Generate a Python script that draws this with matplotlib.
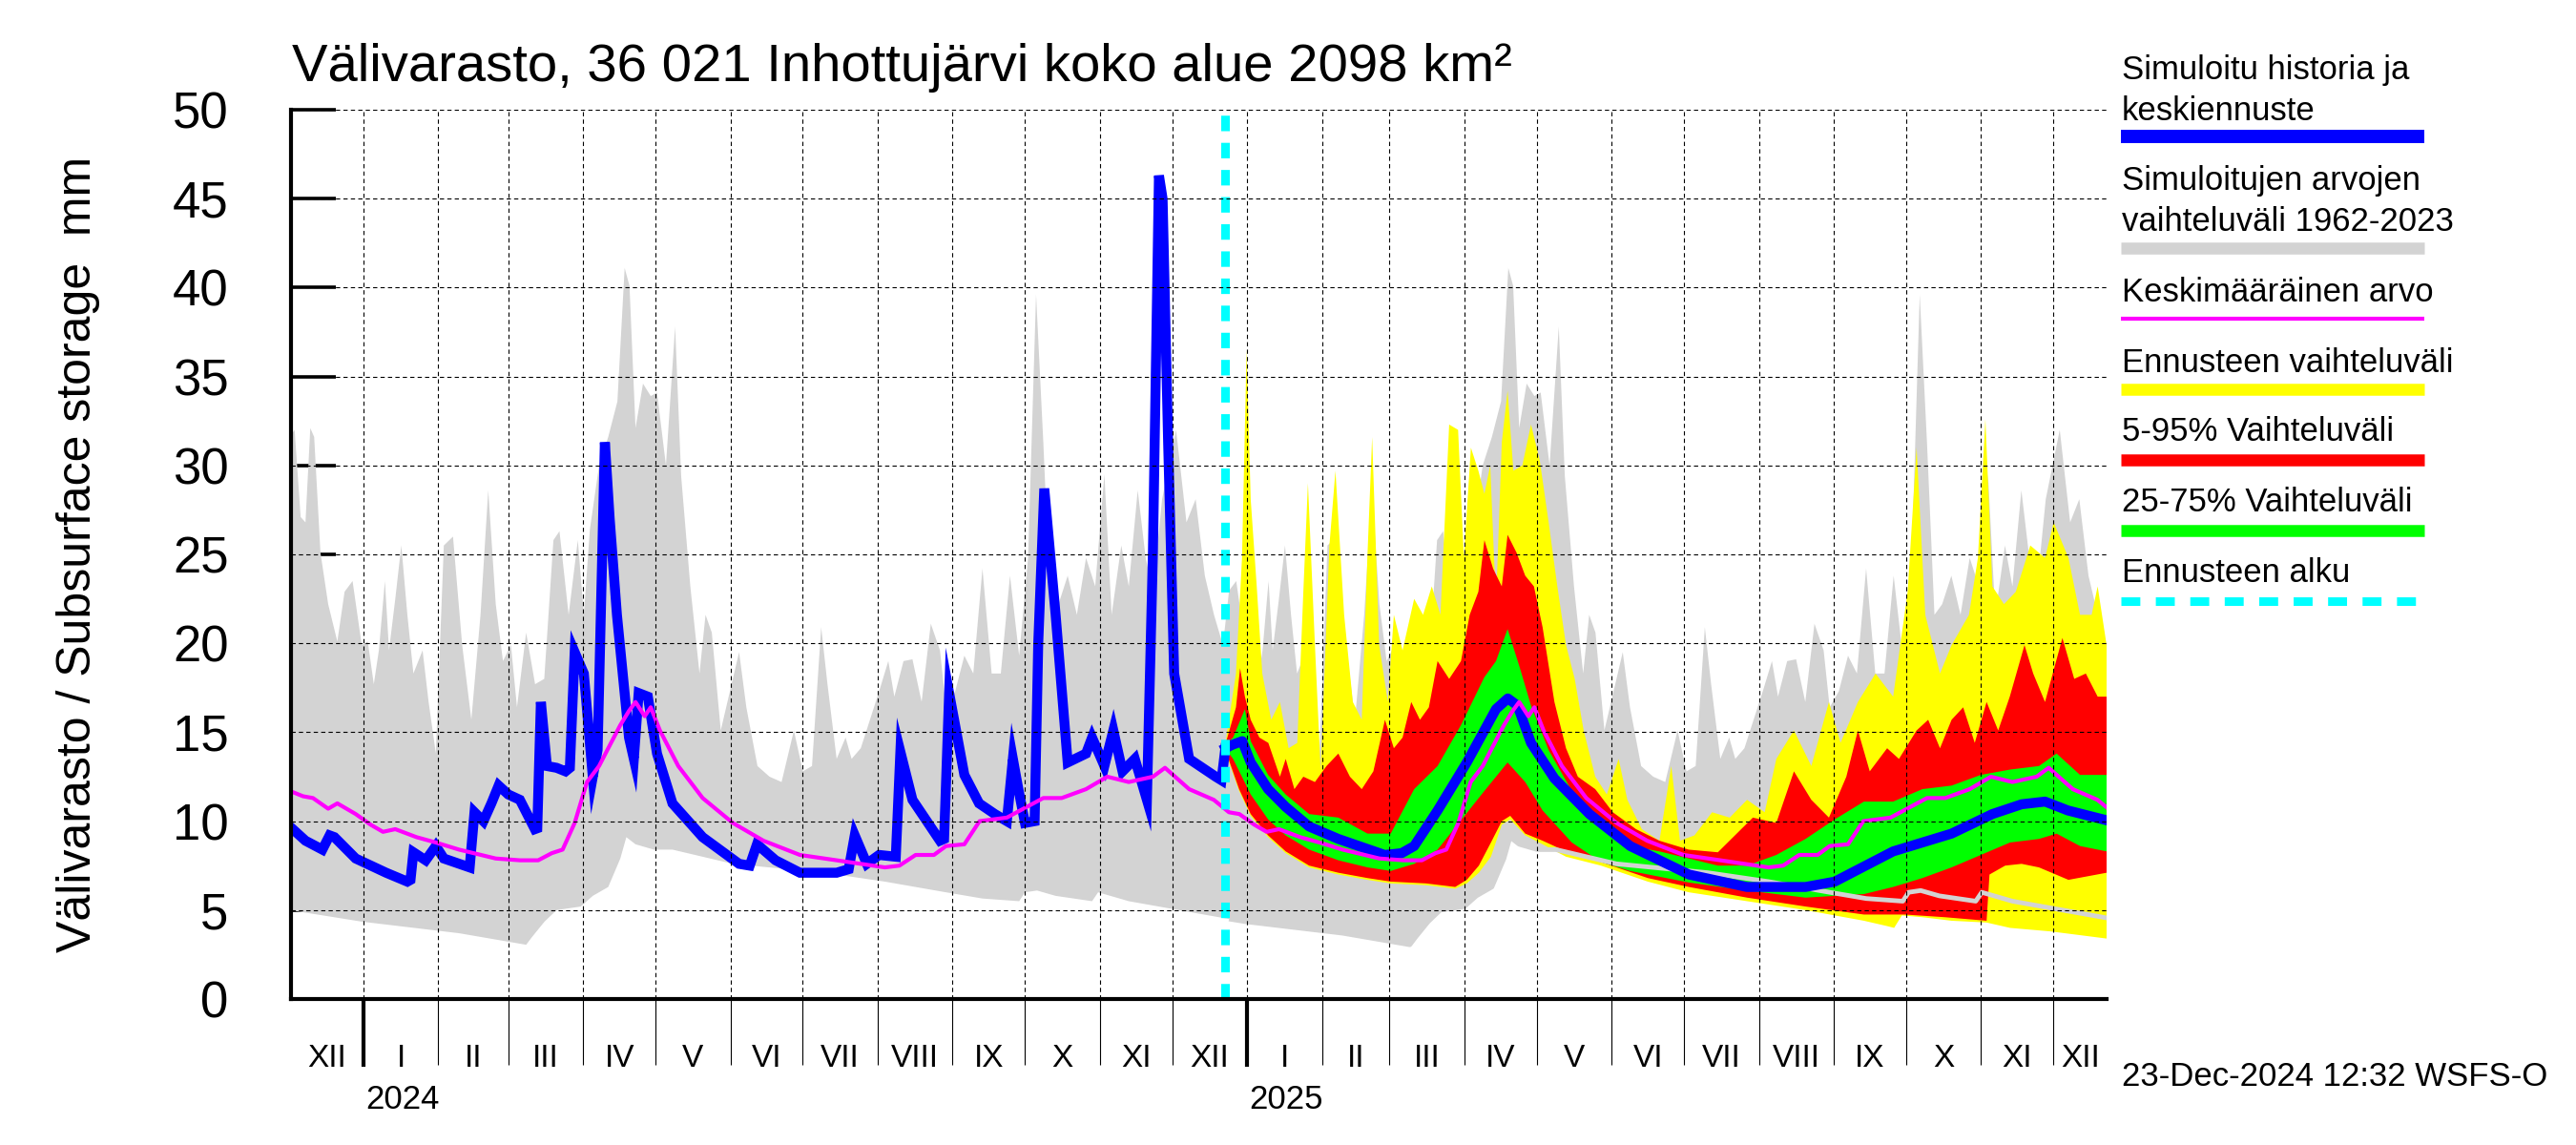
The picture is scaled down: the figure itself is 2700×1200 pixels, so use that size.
import numpy as np
import matplotlib
matplotlib.use('Agg')
import matplotlib.pyplot as plt
from matplotlib.lines import Line2D
from matplotlib.transforms import blended_transform_factory

plt.rcParams['font.family'] = ['Liberation Sans', 'DejaVu Sans']

# ---------------- data (x = days from 2024-01-01) ----------------
# Simulated history (blue)
hist_days = [-30.5, -24, -17, -14, -12, -3.2, 9.4, 18.2, 19.5, 20.7, 25.8, 30, 33.3, 44, 46,
             49.7, 53, 56, 60, 64.8, 71, 72, 73.5, 76, 80, 83.7, 85.5, 87.5, 91.3, 95,
             97, 100, 102, 105, 110, 112, 114, 117.8, 121.6, 128, 140.5, 155.6, 160, 163, 170.7,
             180.8, 196, 201, 203.5, 208.5, 213.6, 220.5, 222.4, 227.4, 238.8, 240.5, 242.6, 248.9, 255, 261.5,
             266.5, 269, 271, 274, 278, 279.5, 282, 286.7, 291.7, 299.3, 301.8, 306.9, 310.6, 314.4, 319.5,
             324.5, 327, 329.5, 331, 333.3, 335.8, 342, 349.7, 353, 355.4, 357]
hist_vals = [9.7, 8.9, 8.4, 9.2, 9.1, 7.9, 7.1, 6.6, 6.7, 8.25, 7.8, 8.6, 7.9, 7.4, 10.5,
             10.0, 11.0, 12.0, 11.5, 11.2, 9.55, 9.6, 16.7, 13.1, 13.0, 12.8, 13.0, 19.5, 18.3, 12.5,
             14.0, 31.3, 27.0, 21.6, 14.7, 13.5, 17.2, 17.0, 13.8, 11.0, 9.1, 7.6, 7.5, 8.7, 7.8,
             7.1, 7.1, 7.3, 9.2, 7.6, 8.1, 8.0, 13.9, 11.2, 8.9, 9.0, 17.2, 12.6, 11.0, 10.4,
             10.0, 13.5, 12.0, 9.9, 10.0, 20.0, 28.7, 21.6, 13.3, 13.8, 14.7, 13.1, 15.1, 12.8, 13.5,
             11.2, 25.1, 46.3, 45.0, 31.3, 18.3, 13.5, 12.8, 12.5, 12.3, 14.1]

# Forecast median (blue)
med_days = [357, 360, 364, 367.5, 374.7, 382, 391.7, 403.8, 423, 430, 435.2, 444.9, 457, 469.1, 474,
            478, 483.6, 493.3, 507.8, 524.7, 549, 573, 597.3, 609.4, 621.5, 633.6, 645.7, 657.8, 674.7,
            686.8, 696.5, 706, 722]
med_vals = [14.1, 14.3, 14.5, 13.3, 11.8, 10.8, 9.7, 9.0, 8.1, 8.2, 8.6, 10.6, 13.3, 16.3, 16.9,
            16.5, 14.4, 12.4, 10.4, 8.6, 7.0, 6.3, 6.3, 6.6, 7.45, 8.3, 8.8, 9.3, 10.4,
            10.95, 11.1, 10.6, 10.05]

# Long-term mean (magenta), day-of-year climatology read over 2024
mean_days = [-30.5, -25, -20.9, -14.6, -10.8, -3.2, 3, 8.1, 13.2, 22, 30, 39.6, 54.8, 64.8, 72.4,
             78, 82.5, 87.5, 92.6, 97.6, 101.4, 106.4, 110, 112.7, 116.5, 119, 122.8, 130.4, 140.5, 153,
             165.7, 180.8, 196, 216, 222, 228.7, 236.3, 241.3, 248.9, 255.2, 266.5, 281.6, 289.2, 299.3,
             308.1, 317, 327, 332, 342, 352.2, 358.5]
mean_vals = [11.7, 11.4, 11.3, 10.7, 11.0, 10.4, 9.8, 9.4, 9.55, 9.1, 8.8, 8.4, 7.9, 7.8, 7.8,
             8.2, 8.4, 9.9, 12.2, 13.1, 14.1, 15.4, 16.2, 16.7, 15.9, 16.4, 15.1, 13.1, 11.3, 9.9,
             8.9, 8.1, 7.8, 7.4, 7.5, 8.1, 8.1, 8.6, 8.7, 10.0, 10.2, 11.3, 11.3, 11.8,
             12.5, 12.2, 12.5, 13.0, 11.8, 11.2, 10.5]

# Range of simulated values 1962-2023 (grey), day-of-year climatology read over 2024
gu_days = [-30.5, -28.5, -26, -24, -22, -20.4, -17.8, -14.6, -10.8, -7.8, -4.5, -0.7, 1.8, 4.3, 6.4,
           8.9, 10.6, 13.2, 15.7, 18.2, 20.7, 24.5, 27, 30, 33.3, 37.1, 40.9, 44.7, 48.5, 51.7,
           54.8, 57.8, 61.1, 63.6, 67.4, 71.1, 74.9, 78.7, 81.2, 85, 88.8, 91.3, 93.8, 97.6, 101.4,
           105.2, 108.2, 110.2, 112.7, 115.8, 119, 121.6, 125.3, 129.1, 131.6, 135.4, 139.2, 141.7, 144.3, 148,
           151.8, 155.6, 158.6, 163.2, 168.2, 173.2, 178.3, 182, 185.8, 189.6, 192.2, 196, 199.7, 202.2, 206,
           209.8, 213.6, 217.4, 219.9, 223.7, 227.4, 231.2, 235, 238.8, 241.3, 245.1, 248.9, 252.6, 256.4, 260.2,
           264, 267.8, 271.6, 275.3, 278.6, 281.6, 284.7, 287.9, 291.7, 295.5, 299.3, 303.1, 306.9, 309.9, 313.9,
           317, 320.7, 324, 327, 330.8, 336.6, 340.9, 344.7, 348.5, 352.3, 356, 358.5]
gu_vals = [31.6, 32, 27.1, 26.8, 32.1, 31.6, 25.1, 22.2, 20.1, 22.9, 23.5, 19.9, 20.1, 17.7, 19.6,
           23.5, 19.6, 22.5, 25.5, 21.6, 18.3, 19.6, 16.7, 13.8, 25.5, 26.0, 19.9, 15.7, 21.6, 28.6,
           22.2, 19.0, 19.9, 16.4, 20.6, 17.7, 18.0, 25.8, 26.3, 21.6, 25.8, 21.6, 26.4, 30.0, 31.6,
           33.6, 41.1, 40.1, 32.1, 34.6, 33.9, 34.1, 30.0, 37.8, 29.4, 23.2, 18.3, 21.6, 20.6, 15.1,
           17.3, 19.5, 16.4, 13.1, 12.5, 12.2, 15.1, 12.8, 13.1, 20.9, 17.7, 13.5, 14.7, 13.5, 14.1,
           15.7, 17.3, 19.0, 17.0, 19.0, 19.1, 16.7, 21.1, 19.6, 16.4, 17.3, 19.3, 18.3, 24.2, 18.3,
           18.3, 23.8, 19.3, 24.8, 39.6, 31.3, 21.6, 22.2, 23.8, 21.6, 24.8, 23.2, 29.5, 21.6, 25.5,
           23.2, 28.6, 24.8, 22.9, 28.1, 32.0, 26.8, 28.1, 23.8, 21.6, 19.9, 22.9]
gl_days = [-30.5, -0.7, 39.6, 67.4, 69.9, 75, 80, 90, 95, 101.4, 106.4, 108.9, 112.7, 120.3,
           128, 153, 190.9, 216, 241.3, 256.4, 271.6, 274, 279, 286.7, 301.8, 304.3, 317, 358.5]
gl_vals = [5.0, 4.35, 3.7, 3.05, 3.5, 4.35, 5.0, 5.2, 5.8, 6.3, 7.9, 9.1, 8.7, 8.4,
           8.4, 7.6, 7.1, 6.6, 6.0, 5.65, 5.5, 6.0, 6.1, 5.8, 5.5, 6.0, 5.5, 4.5]

# Forecast range (yellow)
yu_days = [357, 357.8, 361.4, 363.9, 365.8, 367.5, 370, 372.3, 376, 379.6, 383.2, 386.8, 389.3, 391.2, 394.1,
           396.5, 400.1, 402.6, 406.2, 409.8, 413.5, 415.9, 417.8, 420.7, 424.3, 426.8, 430.4, 435.2, 438.9, 442.5,
           446.1, 449.7, 453.4, 455.8, 458.7, 461.8, 464.3, 466.7, 469.1, 471.5, 473.9, 476.3, 480, 483.6, 487.2,
           490.9, 494.5, 498.1, 501.7, 505.4, 510.2, 515, 519.9, 523.5, 529.5, 536.8, 541.7, 545.3, 551.3, 558.6,
           565.9, 573.1, 580.4, 585.2, 592.5, 599.7, 607, 611.8, 619, 626.3, 633.6, 639.6, 643.3, 646.9, 653,
           657.8, 665, 668.7, 671.8, 674.7, 679.5, 684.4, 690.4, 696.5, 700.1, 706.2, 711, 715.8, 718.3, 722]
yu_vals = [14.2, 15.1, 18.3, 24.8, 36.5, 28.1, 23.2, 18.3, 15.7, 16.7, 14.1, 14.4, 22.9, 29.0, 19.9,
           12.8, 25.5, 29.7, 21.6, 16.7, 15.7, 25.1, 31.6, 19.9, 16.7, 21.6, 19.6, 22.5, 21.6, 23.2,
           21.6, 32.3, 32.0, 24.8, 31.0, 29.7, 28.4, 30.0, 22.2, 31.3, 34.2, 29.7, 30.0, 32.3, 30.3,
           26.8, 23.2, 19.9, 18.0, 15.1, 12.5, 11.5, 13.5, 11.2, 9.55, 8.9, 13.1, 8.9, 9.2, 10.5,
           10.2, 11.2, 10.5, 13.5, 15.1, 13.1, 16.7, 14.4, 16.7, 18.3, 17.0, 22.9, 31.0, 21.6, 18.3,
           19.9, 21.6, 24.8, 32.6, 23.2, 22.2, 22.9, 25.5, 24.8, 26.8, 24.8, 21.6, 21.6, 23.2, 19.9]
yl_days = [357, 362.7, 367.5, 374.7, 382, 391.7, 403.8, 415.9, 425.5, 440.1, 452.2, 457, 462, 467, 471.5,
           475, 481.2, 488.4, 498.1, 512.6, 532, 549, 573.1, 597.3, 621.5, 631.1, 634, 637.2, 645.7, 657.8,
           672.3, 682, 698.9, 722]
yl_vals = [13.9, 11.7, 10.3, 9.1, 8.2, 7.4, 7.0, 6.7, 6.5, 6.4, 6.2, 6.5, 7.1, 8.0, 9.8,
           10.1, 9.2, 8.7, 8.0, 7.5, 6.6, 6.0, 5.5, 5.0, 4.4, 4.1, 4.0, 4.7, 4.6, 4.4,
           4.3, 4.0, 3.8, 3.4]

# 5-95 % range (red)
ru_days = [357, 361.4, 363.1, 365.1, 367.5, 371.1, 374.8, 379.6, 382, 385.6, 389.3, 394.1, 398.9, 403.8, 408.6,
           413.5, 418.3, 423.1, 426.8, 430.4, 434, 437.6, 441.3, 444.9, 449.7, 454.6, 458.2, 461.8, 464.3, 467.9,
           471.5, 473.9, 477.6, 481.2, 484.8, 488.4, 493.3, 498.1, 503, 510.2, 517.5, 527.1, 536.8, 548.9, 561,
           575.5, 585.2, 592.5, 599.7, 607, 614.2, 619, 623.9, 631.1, 636, 643.3, 648.1, 653, 657.8, 662.6,
           667.4, 672.3, 677.1, 681.9, 688, 691.6, 696.5, 703.7, 708.6, 713.4, 718.3, 722]
ru_vals = [14.3, 16.4, 18.6, 17.0, 15.7, 14.7, 14.4, 12.5, 13.5, 11.8, 12.5, 12.2, 13.1, 13.8, 12.5,
           11.8, 12.8, 15.7, 14.1, 14.7, 16.7, 15.7, 16.4, 19.0, 18.0, 19.0, 21.6, 22.9, 25.8, 24.2,
           23.2, 26.1, 25.1, 23.8, 23.2, 20.9, 16.7, 14.1, 12.5, 11.8, 10.5, 9.55, 8.9, 8.4, 8.25,
           10.2, 9.9, 12.8, 11.2, 10.2, 12.5, 15.1, 12.8, 14.1, 13.5, 15.1, 15.7, 14.1, 15.7, 16.4,
           14.4, 16.7, 15.1, 17.0, 19.9, 18.3, 16.7, 20.3, 18.0, 18.3, 17.0, 17.0]
rl_days = [357, 362.7, 367.5, 374.7, 382, 391.7, 403.8, 415.9, 425.5, 440.1, 452.2, 457, 462, 467, 471.5,
           475, 481.2, 488.4, 498.1, 512.6, 532, 549, 573.1, 597.3, 621.5, 638.4, 655, 672.3, 673.5, 680,
           686.8, 694, 706.2, 722]
rl_vals = [14.0, 11.8, 10.4, 9.2, 8.3, 7.5, 7.1, 6.8, 6.6, 6.5, 6.3, 6.7, 7.5, 8.8, 10.0,
           10.3, 9.3, 8.9, 8.3, 7.7, 6.8, 6.3, 5.7, 5.2, 4.75, 4.75, 4.6, 4.4, 7.0, 7.5,
           7.6, 7.4, 6.7, 7.1]

# 25-75 % range (green)
gnu_days = [357, 360.2, 365.1, 367.5, 374.7, 382, 391.7, 403.8, 415.9, 425.5, 435.2, 444.9, 454.6, 464.3, 469.1,
            473.9, 478.8, 483.6, 490.9, 500.5, 512.6, 524.7, 536.8, 549, 561, 573.1, 585.2, 597.3, 609.4, 621.5,
            633.6, 645.7, 657.8, 669.9, 682, 694, 701.3, 711, 722]
gnu_vals = [14.3, 14.7, 16.3, 14.5, 12.6, 11.5, 10.4, 10.2, 9.3, 9.3, 11.8, 13.1, 15.4, 18.1, 19.0,
            20.8, 18.7, 16.5, 14.0, 11.7, 9.9, 8.6, 8.3, 7.9, 7.5, 7.5, 8.1, 9.0, 10.1, 11.1,
            11.1, 11.8, 12.0, 12.6, 12.9, 13.1, 13.8, 12.6, 12.6]
gnl_days = [357, 360.2, 367.5, 374.7, 382, 391.7, 403.8, 415.9, 425.5, 435.2, 444.9, 454.6, 464.3, 473.9, 481.2,
            488.4, 500.5, 512.6, 524.7, 549, 573.1, 597.3, 621.5, 633.6, 645.7, 657.8, 669.9, 682, 694, 701.3,
            711, 722]
gnl_vals = [14.1, 13.5, 11.5, 10.1, 9.2, 8.4, 7.8, 7.4, 7.2, 7.6, 8.4, 10.05, 11.7, 13.3, 12.2,
            10.6, 8.8, 7.7, 7.2, 6.55, 6.1, 5.7, 5.9, 6.3, 6.8, 7.4, 8.1, 8.8, 9.0, 9.3,
            8.6, 8.3]

forecast_start = 357  # 23-Dec-2024
roman = ['I', 'II', 'III', 'IV', 'V', 'VI', 'VII', 'VIII', 'IX', 'X', 'XI', 'XII']
title = 'Välivarasto, 36 021 Inhottujärvi koko alue 2098 km²'
ylabel = 'Välivarasto / Subsurface storage  mm'
stamp = '23-Dec-2024 12:32 WSFS-O'
legend_labels = ['Simuloitu historia ja\nkeskiennuste', 'Simuloitujen arvojen\nvaihteluväli 1962-2023',
                 'Keskimääräinen arvo', 'Ennusteen vaihteluväli', '5-95% Vaihteluväli',
                 '25-75% Vaihteluväli', 'Ennusteen alku']

# ---------------- colours ----------------
C_BLUE, C_GREY, C_MAG = '#0000ff', '#d3d3d3', '#ff00ff'
C_YEL, C_RED, C_GRN, C_CYAN = '#ffff00', '#ff0000', '#00ff00', '#00ffff'

# ---------------- figure ----------------
W, H = 2700, 1200
fig = plt.figure(figsize=(27, 12), dpi=100)
fx = lambda px: px / W
fy = lambda py: 1 - py / H
ax = fig.add_axes([fx(305), fy(1047), fx(2208) - fx(305), fy(115) - fy(1047)])
X0, X1 = -30, 722
ax.set_xlim(X0, X1)
ax.set_ylim(0, 50)


def two_years(d, v):
    d = np.asarray(d, float); v = np.asarray(v, float)
    m = d > -7.9
    return np.concatenate([d, d[m] + 366]), np.concatenate([v, v[m]])


def band(xu, yu, xl, yl, color, z):
    xs = np.concatenate([np.asarray(xu, float), np.asarray(xl, float)[::-1]])
    ys = np.concatenate([np.asarray(yu, float), np.asarray(yl, float)[::-1]])
    ax.fill(xs, ys, color=color, lw=0, zorder=z)


gux, guy = two_years(gu_days, gu_vals)
glx, gly = two_years(gl_days, gl_vals)
band(gux, guy, glx, gly, C_GREY, 1)
band(yu_days, yu_vals, yl_days, yl_vals, C_YEL, 2)
band(ru_days, ru_vals, rl_days, rl_vals, C_RED, 3)
band(gnu_days, gnu_vals, gnl_days, gnl_vals, C_GRN, 4)

m = glx >= forecast_start - 5
ax.plot(glx[m], gly[m], color=C_GREY, lw=3.5, zorder=5, solid_capstyle='butt')

ax.plot(hist_days, hist_vals, color=C_BLUE, lw=7.5, zorder=6, solid_joinstyle='miter')
ax.plot(med_days, med_vals, color=C_BLUE, lw=7.5, zorder=6)
mx, my = two_years(mean_days, mean_vals)
ax.plot(mx, my, color=C_MAG, lw=3, zorder=7)

ax.axvline(forecast_start, color=C_CYAN, lw=6.5, ls=(0, (1.8, 1.35)), zorder=9)

# grid (drawn on top of data, as in the reference)
month_starts = np.arange(np.datetime64('2023-11'), np.datetime64('2026-02'), dtype='datetime64[M]')
ms_days = (month_starts.astype('datetime64[D]') - np.datetime64('2024-01-01')).astype(float)
grid_kw = dict(color='black', lw=0.8, ls=(0, (4, 3)), zorder=10)
for d in ms_days:
    if X0 < d < X1:
        ax.axvline(d, **grid_kw)
for yv in range(5, 51, 5):
    ax.axhline(yv, **grid_kw)

# axes styling
for s in ['top', 'right']:
    ax.spines[s].set_visible(False)
for s in ['left', 'bottom']:
    ax.spines[s].set_linewidth(3)
    ax.spines[s].set_zorder(11)
ax.set_axisbelow(True)

ax.set_yticks(range(0, 51, 5))
ax.tick_params(axis='y', direction='in', length=34, width=2.6, pad=47, labelsize=38)

inside = [d for d in ms_days if X0 < d < X1]
ax.set_xticks(inside)
ax.set_xticklabels([])
ax.tick_params(axis='x', which='major', direction='out', length=50, width=0.8)
centers, labels = [], []
for i in range(len(ms_days) - 1):
    a, b = max(ms_days[i], X0), min(ms_days[i + 1], X1)
    if b - a > 3:
        centers.append((a + b) / 2)
        labels.append(roman[int(str(month_starts[i])[5:7]) - 1])
ax.set_xticks(centers, minor=True)
ax.set_xticklabels(labels, minor=True)
ax.tick_params(axis='x', which='minor', length=0, pad=34, labelsize=24)

trans = blended_transform_factory(ax.transData, fig.transFigure)
for yd, lab in [(0, '2024'), (366, '2025')]:
    ax.plot([yd, yd], [fy(1047), fy(1118)], transform=trans, color='black', lw=3,
            clip_on=False, solid_capstyle='butt', zorder=12)
    ax.text(yd + 1, fy(1152), lab, transform=trans, fontsize=25, ha='left', va='center')

# texts
fig.text(fx(306), fy(85), title, fontsize=40.5, ha='left', va='baseline')
fig.text(fx(82), fy(581), ylabel, fontsize=36, rotation=90, ha='center', va='center')
fig.text(fx(2224), fy(1128), stamp, fontsize=25, ha='left', va='center')

# legend
leg_text_y = [(73, 116), (189, 232), (307,), (380,), (452,), (526,), (601,)]
leg_line_y = [143, 260, 334, 408, 482, 556, 630]
leg_styles = [dict(color=C_BLUE, lw=10), dict(color=C_GREY, lw=9), dict(color=C_MAG, lw=3),
              dict(color=C_YEL, lw=9), dict(color=C_RED, lw=9), dict(color=C_GRN, lw=9),
              dict(color=C_CYAN, lw=6.5, ls=(0, (2.2, 1.8)))]
for lab, tys, ly, st in zip(legend_labels, leg_text_y, leg_line_y, leg_styles):
    for line, ty in zip(lab.split('\n'), tys):
        fig.text(fx(2224), fy(ty), line, fontsize=25, ha='left', va='center')
    fig.add_artist(Line2D([fx(2223), fx(2541)], [fy(ly), fy(ly)], transform=fig.transFigure,
                          solid_capstyle='butt', dash_capstyle='butt', **st))

fig.savefig('out.png', dpi=100)
